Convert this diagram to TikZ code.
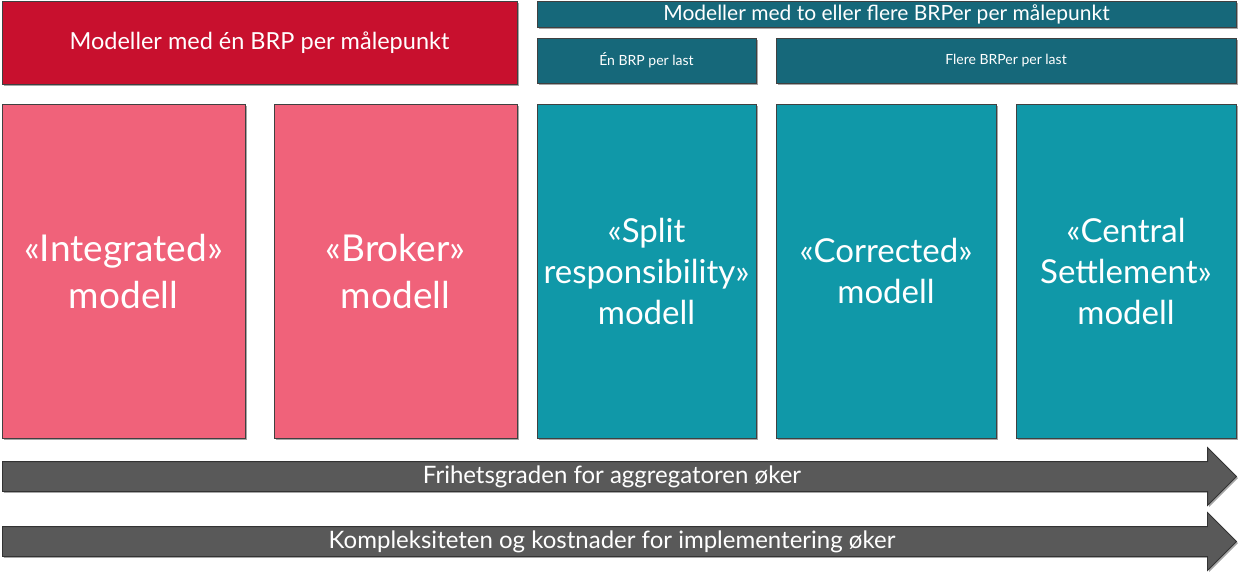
\documentclass[tikz,border=0pt]{standalone}
\usepackage{fontspec}
\setmainfont{Lato}
\usetikzlibrary{shapes.arrows,shadows}

\definecolor{brpred}{RGB}{200,16,46}
\definecolor{modpink}{RGB}{240,98,122}
\definecolor{modteal}{RGB}{16,152,168}
\definecolor{hdrteal}{RGB}{22,104,122}
\definecolor{bargray}{RGB}{89,89,89}

\tikzset{
  boxbase/.style={rectangle, draw=black!75, line width=0.8pt, text=white,
    align=center, inner sep=0pt,
    drop shadow={shadow xshift=1.5pt, shadow yshift=-1.5pt, opacity=0.35, fill=black}},
  hdrbox/.style={boxbase, fill=#1, minimum height=83pt},
  subbox/.style={boxbase, fill=hdrteal, minimum height=45pt, font=\fontsize{14}{16}\selectfont},
  modbox/.style={boxbase, fill=#1, minimum height=334pt},
  scalebar/.style={single arrow, single arrow head extend=14pt, draw=black!80,
    line width=0.8pt, fill=bargray, text=white, minimum height=1234pt,
    text height=15pt, text depth=2pt, inner ysep=6pt,
    font=\fontsize{24}{28}\selectfont,
    drop shadow={shadow xshift=1.5pt, shadow yshift=-1.5pt, opacity=0.35, fill=black}}
}

\begin{document}
\begin{tikzpicture}[x=1pt,y=-1pt]
  \useasboundingbox (0,0) rectangle (1238,571);

  \node[hdrbox=brpred, minimum width=515pt, font=\fontsize{23.5}{27}\selectfont]
    (oneBRP) at (259.5,42.5) {Modeller med én BRP per målepunkt};
  \node[hdrbox=hdrteal, minimum width=699pt, minimum height=26pt, font=\fontsize{21}{23}\selectfont]
    (manyBRP) at (886.5,14) {Modeller med to eller flere BRPer per målepunkt};
  \node[subbox, minimum width=219pt] (oneLoad) at (646.5,60.5) {Én BRP per last};
  \node[subbox, minimum width=460pt] (manyLoad) at (1006,60.5) {Flere BRPer per last};

  \node[modbox=modpink, minimum width=243pt, font=\fontsize{37}{47}\selectfont]
    (integrated) at (123.5,271) {«Integrated»\\modell};
  \node[modbox=modpink, minimum width=243pt, font=\fontsize{37}{47}\selectfont]
    (broker) at (395.5,271) {«Broker»\\modell};
  \node[modbox=modteal, minimum width=219pt, font=\fontsize{33}{41}\selectfont]
    (split) at (646.5,271) {«Split\\responsibility»\\modell};
  \node[modbox=modteal, minimum width=220pt, font=\fontsize{33}{41}\selectfont]
    (corrected) at (886,271) {«Corrected»\\modell};
  \node[modbox=modteal, minimum width=220pt, font=\fontsize{33}{41}\selectfont]
    (central) at (1126,271) {«Central\\Settlement»\\modell};

  \node[scalebar, anchor=west] (freedom) at (2,476.5) {Frihetsgraden for aggregatoren øker};
  \node[scalebar, anchor=west] (cost) at (2,541.5) {Kompleksiteten og kostnader for implementering øker};
\end{tikzpicture}
\end{document}
